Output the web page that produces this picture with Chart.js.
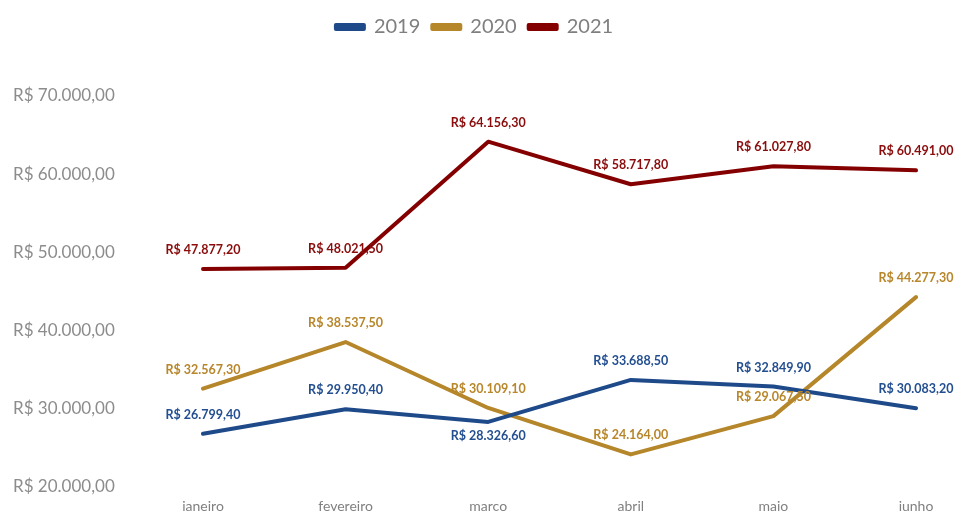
<!DOCTYPE html>
<html>
<head>
<meta charset="utf-8">
<script src="https://cdn.jsdelivr.net/npm/chart.js@4"></script>
<style>
  html, body { margin: 0; padding: 0; background: #fff; overflow: hidden; }
  #wrap { width: 955px; height: 511px; }
</style>
</head>
<body>
<div id="wrap"><canvas id="vendas"></canvas></div>
<script>
var meses = ["janeiro", "fevereiro", "março", "abril", "maio", "junho"],
    vendas2019 = [26799.40, 29950.40, 28326.60, 33688.50, 32849.90, 30083.20],
    vendas2020 = [32567.30, 38537.50, 30109.10, 24164.00, 29067.50, 44277.30],
    vendas2021 = [47877.20, 48021.50, 64156.30, 58717.80, 61027.80, 60491.00];

// formata no padrão R$ 12.345,60
function reais(v) {
    var partes = v.toFixed(2).split("."),
        inteiro = partes[0].replace(/\B(?=(\d{3})+(?!\d))/g, ".");
    return "R$ " + inteiro + "," + partes[1];
}

// rótulo abaixo do ponto (série-índice)
var rotuloAbaixo = { "0-2": true };

var rotulos = {
    id: "rotulos",
    beforeInit: function (chart) {
        // espaço extra entre a legenda e o gráfico
        var fitOriginal = chart.legend.fit;
        chart.legend.fit = function () {
            fitOriginal.call(this);
            this.height += 49;
        };
    },
    afterLayout: function (chart) {
        // legenda um pouco mais à direita
        chart.legend.left += 10;
        chart.legend.right += 10;
    },
    afterDatasetsDraw: function (chart) {
        var ctx = chart.ctx;
        ctx.save();
        ctx.font = "bold 12.5px Lato, 'Noto Sans', sans-serif";
        ctx.textAlign = "center";
        ctx.textBaseline = "middle";
        chart.data.datasets.forEach(function (ds, i) {
            var meta = chart.getDatasetMeta(i);
            ctx.fillStyle = ds.labelColor;
            meta.data.forEach(function (pt, j) {
                var dy = rotuloAbaixo[i + "-" + j] ? 14 : -19;
                ctx.fillText(reais(ds.data[j]), pt.x, pt.y + dy);
            });
        });
        ctx.restore();
    }
};

function desenhaVendas() {
    var datasets = [{
        label: "2019",
        data: vendas2019,
        borderColor: "#1f4a8a",
        backgroundColor: "#1f4a8a",
        labelColor: "#234f91"
    }, {
        label: "2020",
        data: vendas2020,
        borderColor: "#b5862a",
        backgroundColor: "#b5862a",
        labelColor: "#b8862b"
    }, {
        label: "2021",
        data: vendas2021,
        borderColor: "#840000",
        backgroundColor: "#840000",
        labelColor: "#8a0c0c"
    }];

    datasets.forEach(function (d) {
        d.fill = false;
        d.borderWidth = 4;
        d.borderCapStyle = "round";
        d.borderJoinStyle = "round";
        d.pointRadius = 0;
        d.tension = 0;
    });

    var ctx = document.getElementById("vendas");
    new Chart(ctx, {
        type: "line",
        data: { labels: meses, datasets: datasets },
        plugins: [rotulos],
        options: {
            responsive: true,
            maintainAspectRatio: false,
            animation: false,
            layout: { padding: { top: 5, right: 39, bottom: 0, left: 13 } },
            plugins: {
                tooltip: { enabled: false },
                legend: {
                    position: "top",
                    labels: {
                        boxWidth: 28,
                        boxHeight: 4,
                        padding: 12,
                        color: "#7f7f7f",
                        font: { family: "Lato, 'Noto Sans', sans-serif", size: 20 }
                    }
                }
            },
            scales: {
                x: {
                    offset: false,
                    grid: { display: false, drawTicks: false },
                    border: { display: false },
                    afterFit: function (scale) { scale.height = 24; },
                    ticks: {
                        color: "#808080",
                        padding: 11,
                        font: { family: "Lato, 'Noto Sans', sans-serif", size: 14 }
                    }
                },
                y: {
                    min: 20000,
                    max: 70000,
                    grid: { display: false, drawTicks: false },
                    border: { display: false },
                    afterFit: function (scale) {
                        scale.width = 190;
                        scale.paddingBottom = 0;
                    },
                    ticks: {
                        stepSize: 10000,
                        padding: 4,
                        crossAlign: "far",
                        color: "#8c8c8c",
                        font: { family: "Lato, 'Noto Sans', sans-serif", size: 17 },
                        callback: function (v) { return reais(v); }
                    }
                }
            }
        }
    });
}

window.onload = function () {
    desenhaVendas();
};
</script>
</body>
</html>
